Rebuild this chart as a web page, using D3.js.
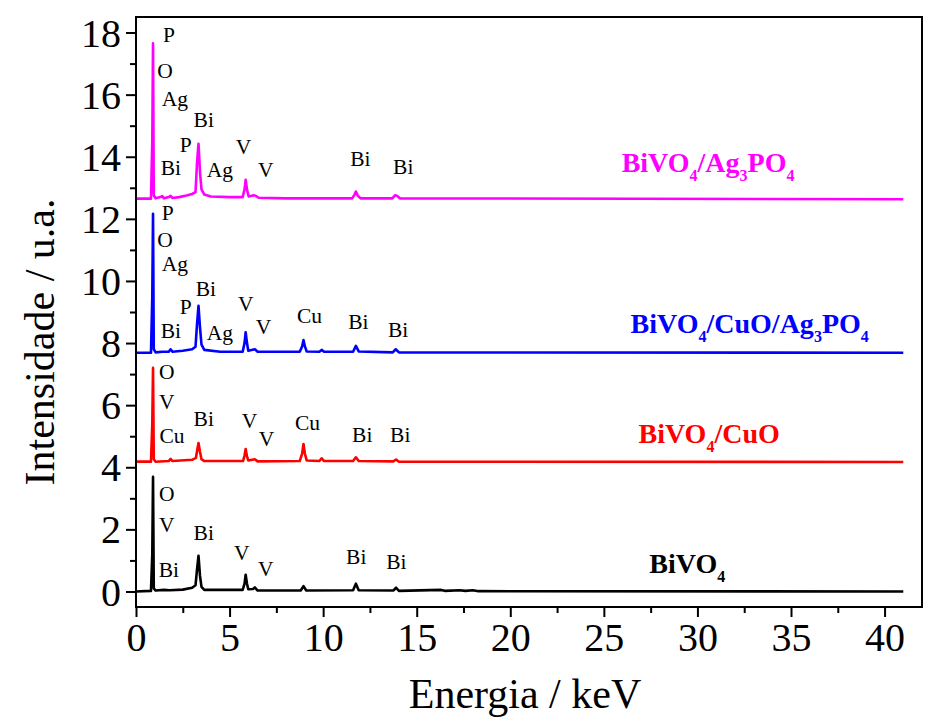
<!DOCTYPE html>
<html><head><meta charset="utf-8">
<script src="https://cdn.jsdelivr.net/npm/d3@7"></script>
<style>
html,body{margin:0;padding:0;background:#fff;}
svg text{font-family:"Liberation Serif","Times New Roman",serif;}
</style></head>
<body>
<svg id="chart" width="925" height="717"></svg>
<script>
// ---- data (keV, intensity incl. vertical offset) ----
const seriesNames = ["BiVO4", "BiVO4/CuO", "BiVO4/CuO/Ag3PO4", "BiVO4/Ag3PO4"];
const seriesColors = ["#000000", "#ff0000", "#0000ff", "#ff00ff"];

const spBiVO4 = [[0,0],[0.8,0.02],[0.87,1.2],[0.91,3.69],[0.95,0.1],[1.05,0.03],[1.5,0.05],[1.8,0.04],[2.5,0.06],[3.0,0.12],[3.18,0.2],[3.26,0.7],[3.34,1.15],[3.42,0.5],[3.5,0.15],[3.65,0.05],[5.7,0.05],[5.8,0.25],[5.86,0.54],[5.93,0.25],[6.0,0.07],[6.25,0.08],[6.35,0.13],[6.5,0.03],[8.8,0.03],[8.95,0.17],[9.1,0.03],[11.6,0.04],[11.75,0.25],[11.9,0.04],[13.75,0.03],[13.9,0.12],[14.05,0.02],[16.3,0.05],[16.5,0.02],[17.3,0.04],[17.6,0.02],[18.0,0.04],[18.3,0.01],[41,0]];
const spCuO = [[0,4.18],[0.8,4.18],[0.87,5.4],[0.91,7.2],[0.95,4.26],[1.05,4.18],[1.75,4.2],[1.85,4.27],[1.95,4.2],[3.0,4.24],[3.2,4.3],[3.27,4.55],[3.34,4.78],[3.42,4.5],[3.5,4.26],[3.65,4.2],[5.72,4.2],[5.8,4.38],[5.86,4.59],[5.93,4.35],[6.0,4.22],[6.35,4.26],[6.5,4.19],[8.75,4.2],[8.88,4.45],[8.95,4.75],[9.02,4.45],[9.12,4.22],[9.8,4.2],[9.92,4.29],[10.05,4.2],[11.6,4.2],[11.75,4.32],[11.9,4.2],[13.75,4.19],[13.9,4.25],[14.05,4.18],[41,4.17]];
const spCuOAg = [[0,7.69],[0.8,7.69],[0.87,9.5],[0.91,12.16],[0.95,7.8],[1.05,7.7],[1.4,7.72],[1.75,7.72],[1.85,7.8],[1.95,7.72],[2.5,7.75],[3.0,7.8],[3.18,7.88],[3.26,8.6],[3.34,9.2],[3.42,8.5],[3.5,7.95],[3.65,7.78],[4.5,7.72],[5.7,7.72],[5.8,8.0],[5.86,8.35],[5.93,8.0],[6.0,7.75],[6.35,7.8],[6.5,7.72],[8.75,7.72],[8.88,7.9],[8.95,8.1],[9.02,7.9],[9.12,7.73],[9.8,7.72],[9.92,7.78],[10.05,7.72],[11.6,7.72],[11.75,7.91],[11.9,7.73],[13.72,7.7],[13.88,7.8],[14.05,7.7],[41,7.69]];
const spAg = [[0,12.65],[0.8,12.65],[0.87,14.5],[0.91,17.65],[0.95,12.75],[1.05,12.66],[1.3,12.7],[1.4,12.73],[1.5,12.66],[1.75,12.7],[1.85,12.74],[1.95,12.67],[2.3,12.7],[2.7,12.75],[3.0,12.8],[3.18,12.86],[3.26,13.8],[3.34,14.42],[3.42,13.5],[3.5,12.95],[3.65,12.78],[4.0,12.72],[5.0,12.7],[5.7,12.7],[5.8,12.95],[5.86,13.26],[5.93,12.95],[6.02,12.72],[6.3,12.76],[6.4,12.74],[6.55,12.68],[8.0,12.66],[11.55,12.66],[11.68,12.78],[11.75,12.88],[11.85,12.75],[12.0,12.66],[13.7,12.66],[13.85,12.76],[13.95,12.74],[14.1,12.66],[41,12.63]];
const spectra = [spBiVO4, spCuO, spCuOAg, spAg];

// peak annotations: [text, keV, intensity]
const peaksBiVO4 = [["O",1.65,3.16],["V",1.65,2.16],["Bi",1.76,0.71],["Bi",3.62,1.90],["V",5.65,1.26],["V",6.93,0.74],["Bi",11.77,1.13],["Bi",13.91,0.97]];
const peaksCuO = [["O",1.65,7.10],["V",1.65,6.13],["Cu",1.92,5.03],["Bi",3.62,5.58],["V",6.07,5.52],["V",6.98,4.94],["Cu",9.16,5.45],["Bi",12.09,5.06],["Bi",14.12,5.06]];
const peaksCuOAg = [["P",1.70,12.19],["O",1.545,11.33],["Ag",2.08,10.56],["Bi",3.73,9.77],["P",2.66,9.19],["Bi",1.86,8.42],["Ag",4.48,8.35],["V",5.86,9.29],["V",6.82,8.52],["Cu",9.27,8.90],["Bi",11.88,8.68],["Bi",14.01,8.45]];
const peaksAg = [["P",1.76,17.94],["O",1.545,16.77],["Ag",2.08,15.87],["Bi",3.62,15.19],["P",2.66,14.39],["Bi",1.86,13.65],["Ag",4.48,13.58],["V",5.75,14.32],["V",6.93,13.58],["Bi",11.99,13.94],["Bi",14.28,13.68]];
const peakSets = [peaksBiVO4, peaksCuO, peaksCuOAg, peaksAg];

// series labels: [main/sub parts], keV start, intensity baseline
const labelParts = [
  [["BiVO",0],["4",1]],
  [["BiVO",0],["4",1],["/CuO",0]],
  [["BiVO",0],["4",1],["/CuO/Ag",0],["3",1],["PO",0],["4",1]],
  [["BiVO",0],["4",1],["/Ag",0],["3",1],["PO",0],["4",1]]
];
const labelX = [27.43, 26.85, 26.43, 25.95];
const labelY = [0.58, 4.77, 8.32, 13.52];

const xMajor = [0,5,10,15,20,25,30,35,40];
const xMinor = [2.5,7.5,12.5,17.5,22.5,27.5,32.5,37.5];
const yMajor = [0,2,4,6,8,10,12,14,16,18];
const yMinor = [1,3,5,7,9,11,13,15,17];
const xDomain = [0,42];
const yDomain = [-0.5,18.5];

// ---- drawing ----
const svg = d3.select("#chart");
const L = 136, R = 922, T = 17, B = 607;
const x = d3.scaleLinear().domain(xDomain).range([L,R]);
const y = d3.scaleLinear().domain(yDomain).range([B,T]);

const line = d3.line().x(d=>x(d[0])).y(d=>y(d[1]));
const plot = svg.append("g");
spectra.forEach((s,i)=>{
  plot.append("path").datum(s).attr("d",line).attr("fill","none")
    .attr("stroke",seriesColors[i]).attr("stroke-width",2.6).attr("stroke-linejoin","round");
});

// axes
const ax = svg.append("g").attr("transform",`translate(0,${B})`)
  .call(d3.axisBottom(x).tickValues(xMajor).tickSize(10).tickPadding(6).tickFormat(d3.format("d")));
const axm = svg.append("g").attr("transform",`translate(0,${B})`)
  .call(d3.axisBottom(x).tickValues(xMinor).tickSize(6).tickFormat(""));
const ay = svg.append("g").attr("transform",`translate(${L},0)`)
  .call(d3.axisLeft(y).tickValues(yMajor).tickSize(10).tickPadding(5).tickFormat(d3.format("d")));
const aym = svg.append("g").attr("transform",`translate(${L},0)`)
  .call(d3.axisLeft(y).tickValues(yMinor).tickSize(6).tickFormat(""));
[ax,axm,ay,aym].forEach(g=>{
  g.select(".domain").remove();
  g.selectAll("line").attr("stroke","#000").attr("stroke-width",2);
  g.selectAll("text").attr("font-size",40).attr("fill","#000")
    .style("font-family","'Liberation Serif','Times New Roman',serif");
});
ay.selectAll("text").attr("dy","0.34em");
ax.selectAll("text").attr("dy","0.7em");

// frame
svg.append("rect").attr("x",L).attr("y",T).attr("width",R-L).attr("height",B-T)
  .attr("fill","none").attr("stroke","#000").attr("stroke-width",2);

// peak labels
peakSets.forEach((ps,i)=>{
  svg.append("g").selectAll("text").data(ps).join("text")
    .attr("x",d=>x(d[1])).attr("y",d=>y(d[2])).attr("dy","0.35em")
    .attr("text-anchor","middle").attr("font-size",21.5).attr("fill","#000")
    .text(d=>d[0]);
});

// series labels
labelParts.forEach((parts,i)=>{
  const t = svg.append("text").attr("x",x(labelX[i])).attr("y",y(labelY[i]))
    .attr("font-size",28).attr("font-weight","bold").attr("fill",seriesColors[i]);
  let prevSub = 0;
  parts.forEach(p=>{
    const sub = p[1];
    const dy = sub && !prevSub ? 9 : (!sub && prevSub ? -9 : 0);
    t.append("tspan").attr("dy",dy).attr("font-size",sub?16:28).text(p[0]);
    prevSub = sub;
  });
});

// axis titles
svg.append("text").attr("x",(L+R)/2 - 4).attr("y",708).attr("text-anchor","middle")
  .attr("font-size",42).attr("fill","#000").text("Energia / keV");
svg.append("text").attr("transform",`translate(54,${(T+B)/2+30}) rotate(-90)`)
  .attr("text-anchor","middle").attr("font-size",42).attr("fill","#000").text("Intensidade / u.a.");
</script>
</body></html>
